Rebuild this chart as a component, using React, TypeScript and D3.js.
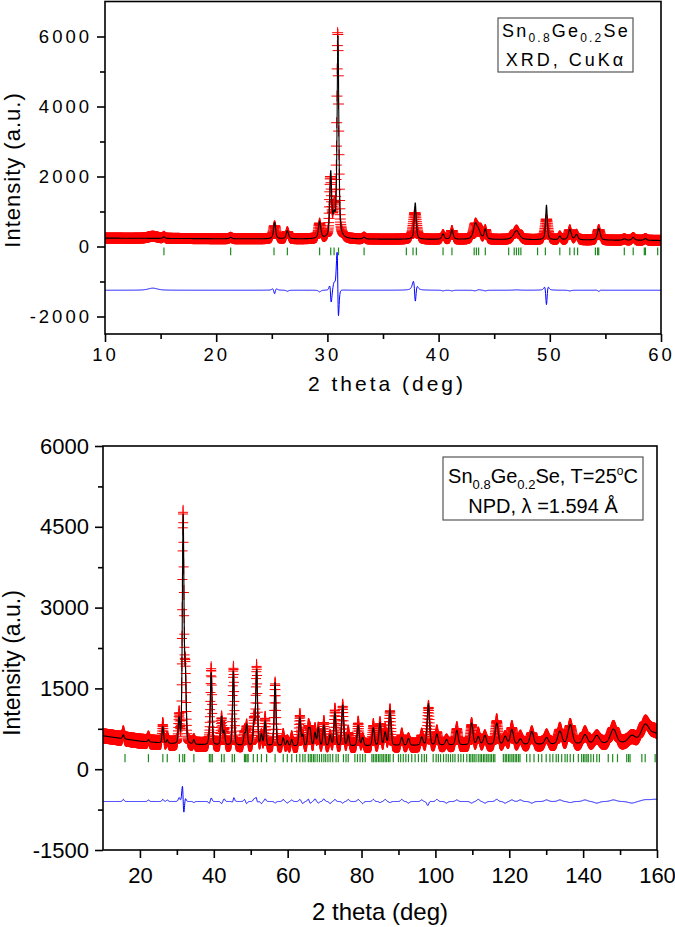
import React, { useEffect, useRef } from 'react';
import * as d3 from 'd3';

const FONT = "'Liberation Sans', Arial, Helvetica, sans-serif";

// ---- XRD (Cu Kα) panel ----
const xrdRange = [10, 60];
const xrdStep = 0.02;
const xrdBgAt = [10, 20, 30, 40, 50, 60];
const xrdBgVal = [240, 222, 212, 202, 188, 172];
const xrdPos = [14.3, 15.3, 21.3, 25.25, 26.4, 29.3, 30.3, 30.6, 30.95, 33.3, 37.9, 40.4, 41.2, 43.3, 43.6, 44.2, 47.0, 49.7, 50.9, 51.8, 52.4, 54.4, 56.7, 57.5, 58.6];
const xrdCalc = [0, 50, 40, 470, 230, 480, 1850, 500, 5800, 50, 1050, 150, 270, 420, 200, 280, 260, 1000, 100, 300, 150, 330, 40, 80, 50];
const xrdObs = [60, 50, 40, 370, 200, 430, 1650, 700, 5850, 50, 760, 130, 250, 400, 220, 260, 270, 590, 100, 280, 150, 300, 40, 80, 50];
const xrdCalcW = [1.0, 0.2, 0.25, 0.22, 0.25, 0.25, 0.2, 0.25, 0.18, 0.25, 0.2, 0.25, 0.25, 0.4, 0.4, 0.25, 0.6, 0.18, 0.25, 0.3, 0.3, 0.3, 0.3, 0.3, 0.3];
const xrdObsW = [1.0, 0.2, 0.25, 0.3, 0.25, 0.25, 0.2, 0.25, 0.19, 0.25, 0.35, 0.25, 0.25, 0.4, 0.4, 0.25, 0.6, 0.3, 0.25, 0.3, 0.3, 0.32, 0.3, 0.3, 0.3];
const xrdShift = [0, 0, 0, 0, 0, 0, -0.02, 0, -0.022, 0, -0.03, 0, 0, 0, 0, 0, 0, 0, 0, 0, 0, 0, 0, 0, 0];
const xrdRefl = [15.3, 21.3, 25.2, 26.4, 29.3, 30.3, 30.6, 31.0, 33.3, 37.1, 37.7, 38.0, 40.4, 41.2, 43.2, 43.4, 43.6, 44.2, 46.3, 46.8, 47.0, 47.2, 47.4, 48.9, 49.6, 50.9, 51.8, 52.2, 52.5, 54.1, 54.3, 54.4, 56.7, 57.5, 58.5, 58.6, 59.7];

// ---- NPD (λ = 1.594 Å) panel ----
const npdRange = [10, 160];
const npdStep = 0.05;
const npdBgAt = [10, 20, 30, 45, 60, 80, 100, 120, 140, 160];
const npdBgVal = [620, 520, 460, 440, 425, 430, 445, 455, 465, 500];
const npdPos = [15.5, 22.3, 26.2, 27.4, 30.6, 31.7, 32.3, 34.6, 38.8, 39.3, 42.1, 42.8, 45.3, 48.3, 48.9, 50.9, 51.6, 52.9, 53.9, 56.6, 58.8, 59.9, 61.1, 63.3, 64.1, 65.6, 66.1, 67.4, 68.3, 69.8, 71.5, 72.8, 74.9, 76.4, 79.1, 80.3, 83.2, 85.0, 86.4, 87.7, 90.9, 92.7, 96.3, 98.1, 100.4, 103.0, 105.8, 109.8, 111.6, 113.4, 116.6, 118.9, 120.7, 123.0, 126.1, 130.1, 133.7, 136.5, 140.5, 143.7, 148.2, 153.2, 156.8, 159.5];
const npdCalc = [70, 40, 300, 60, 450, 4200, 1250, 80, 150, 1330, 530, 250, 1380, 200, 380, 420, 1400, 200, 450, 1180, 150, 100, 120, 520, 200, 280, 280, 240, 330, 380, 200, 620, 760, 200, 380, 150, 330, 420, 240, 660, 150, 130, 150, 760, 200, 100, 270, 400, 150, 170, 400, 150, 280, 100, 240, 120, 240, 360, 170, 150, 260, 130, 320, 150];
const npdObs = [110, 70, 340, 90, 520, 4250, 1320, 60, 110, 1400, 490, 300, 1430, 240, 340, 470, 1450, 160, 500, 1150, 190, 70, 150, 560, 160, 330, 240, 290, 300, 430, 160, 660, 730, 240, 420, 110, 370, 400, 280, 640, 190, 100, 180, 700, 240, 70, 300, 370, 190, 140, 440, 120, 310, 130, 210, 150, 270, 340, 200, 120, 290, 100, 350, 190];
const npdShiftedAt = [31.7, 45.3, 51.6, 98.1];
const npdShiftBy = [-0.022, 0.01, -0.01, 0.02];
// Caglioti resolution of the diffractometer
const npdU = 0.28, npdV = -0.05, npdW = 0.26;
const npdRefl = [15.96, 22.3, 26.2, 27.4, 30.7, 31.6, 32.1, 34.6, 38.8, 39.2, 39.6, 42.1, 42.8, 45.0, 45.6, 48.3, 48.6, 49.0, 49.3, 50.7, 51.8, 52.9, 54.3, 56.6, 58.8, 59.9, 61.1, 62.4, 63.3, 64.1, 64.7, 65.6, 66.1, 66.5, 67.0, 67.4, 68.0, 68.6, 69.2, 69.8, 70.3, 70.9,
  71.5, 72.2, 73.1, 73.7, 75.1, 75.8, 76.4, 78.2, 78.9, 79.6, 80.3, 81.0, 82.8, 83.2, 83.7, 84.1, 84.6, 85.0, 85.5, 85.9, 86.4, 86.8, 87.3, 87.7, 88.6, 90.0, 90.6, 91.3, 92.0, 92.7, 93.6, 94.5, 95.4, 96.3, 97.0, 97.6, 99.4, 100.2, 100.8, 101.4, 102.2, 102.9, 103.5, 104.1, 104.7, 105.3,
  106.2, 106.9, 107.6, 108.5, 109.2, 109.6, 110.1, 110.5, 111.0, 111.6, 112.1, 112.5, 113.0, 113.4, 113.9, 114.3, 114.8, 115.2, 115.7, 116.1, 118.4, 118.9, 119.3, 119.8, 120.2, 120.7, 121.1, 121.6, 122.0, 122.5, 122.9, 124.7, 125.6, 126.7, 127.9, 128.8, 130.0, 131.0, 131.8, 132.7, 133.3,
  134.2, 135.1, 135.7, 136.5, 137.4, 138.7, 139.6, 140.1, 140.5, 141.0, 141.4, 142.1, 142.8, 143.7, 144.4, 146.8, 148.0, 149.3, 151.8, 152.3, 152.7, 155.9, 156.8, 159.5];

// pseudo-Voigt peak
function pv(t: number, pos: number, h: number, fwhm: number, eta: number) {
  const d = (t - pos) / (fwhm / 2);
  const d2 = d * d;
  return h * (eta / (1 + d2) + (1 - eta) * Math.exp(-Math.LN2 * d2));
}

function buildXrd() {
  const xs = d3.range(xrdRange[0], xrdRange[1] + xrdStep / 2, xrdStep);
  const bg = d3.scaleLinear().domain(xrdBgAt).range(xrdBgVal);
  const calc = xs.map((t) => bg(t) + d3.sum(xrdPos, (p, i) => pv(t, p, xrdCalc[i], xrdCalcW[i], 0.6)));
  const obs = xs.map((t) => bg(t) + d3.sum(xrdPos, (p, i) => pv(t, p + xrdShift[i], xrdObs[i], xrdObsW[i], 0.6)));
  const diff = obs.map((o, i) => o - calc[i] - 1250);
  return { xs, calc, obs, diff };
}

function buildNpd() {
  const xs = d3.range(npdRange[0], npdRange[1] + npdStep / 2, npdStep);
  const bg = d3.scaleLinear().domain(npdBgAt).range(npdBgVal);
  const widths = npdPos.map((p) => {
    const tn = Math.tan((p / 2) * Math.PI / 180);
    return Math.sqrt(npdU * tn * tn + npdV * tn + npdW);
  });
  const shift = npdPos.map((p) => {
    const k = npdShiftedAt.indexOf(p);
    return k >= 0 ? npdShiftBy[k] : 0;
  });
  const calc = xs.map((t) => bg(t) + d3.sum(npdPos, (p, i) => pv(t, p, npdCalc[i], widths[i], 0.25)));
  const obs = xs.map((t) => bg(t) + d3.sum(npdPos, (p, i) => pv(t, p + shift[i], npdObs[i], widths[i], 0.25)));
  const diff = obs.map((o, i) => o - calc[i] - 600);
  return { xs, calc, obs, diff };
}

function drawPanel(svg: any, p: any) {
  const x = d3.scaleLinear().domain(p.xDomain).range([p.left, p.right]);
  const y = d3.scaleLinear().domain(p.yDomain).range([p.bottom, p.top]);
  const clipId = p.id + '-clip';
  svg.append('clipPath').attr('id', clipId).append('rect')
    .attr('x', p.left).attr('y', p.top).attr('width', p.right - p.left).attr('height', p.bottom - p.top);
  const g = svg.append('g').attr('clip-path', `url(#${clipId})`);

  // observed points as red crosses
  const hw = p.markW / 2, hh = p.markH / 2;
  let d = '';
  p.data.xs.forEach((t: number, i: number) => {
    const px = x(t), py = y(p.data.obs[i]);
    d += `M${(px - hw).toFixed(1)},${py.toFixed(1)}h${p.markW}M${px.toFixed(1)},${(py - hh).toFixed(1)}v${p.markH}`;
  });
  g.append('path').attr('d', d).attr('fill', 'none').attr('stroke', '#ff0000').attr('stroke-width', 1);

  const line = d3.line<number>().x((_, i) => x(p.data.xs[i])).y((v) => y(v));
  g.append('path').datum(p.data.calc).attr('d', line)
    .attr('fill', 'none').attr('stroke', '#000').attr('stroke-width', 1.1);

  // Bragg reflections
  g.append('g').selectAll('line').data(p.refl).join('line')
    .attr('x1', (t: number) => x(t)).attr('x2', (t: number) => x(t))
    .attr('y1', y(p.reflTop)).attr('y2', y(p.reflBottom))
    .attr('stroke', '#1f8a1f').attr('stroke-width', 1.2);

  // difference curve
  g.append('path').datum(p.data.diff).attr('d', line)
    .attr('fill', 'none').attr('stroke', '#0000ff').attr('stroke-width', 1);

  svg.append('rect')
    .attr('x', p.left).attr('y', p.top).attr('width', p.right - p.left).attr('height', p.bottom - p.top)
    .attr('fill', 'none').attr('stroke', '#000').attr('stroke-width', 1.6);

  const fmt = (v: any) => String(v);
  const xAx = svg.append('g').attr('transform', `translate(0,${p.bottom})`)
    .call(d3.axisBottom(x).tickValues(p.xMajor).tickFormat(fmt).tickSize(8).tickSizeOuter(0).tickPadding(p.xPad));
  const xMin = svg.append('g').attr('transform', `translate(0,${p.bottom})`)
    .call(d3.axisBottom(x).tickValues(p.xMinor).tickFormat(() => '').tickSize(5).tickSizeOuter(0));
  const yAx = svg.append('g').attr('transform', `translate(${p.left},0)`)
    .call(d3.axisLeft(y).tickValues(p.yMajor).tickFormat(fmt).tickSize(8).tickSizeOuter(0).tickPadding(p.yPad));
  const yMin = svg.append('g').attr('transform', `translate(${p.left},0)`)
    .call(d3.axisLeft(y).tickValues(p.yMinor).tickFormat(() => '').tickSize(5).tickSizeOuter(0));
  [xAx, xMin, yAx, yMin].forEach((a) => {
    a.select('.domain').remove();
    a.selectAll('line').attr('stroke', '#000').attr('stroke-width', 1.6);
    a.selectAll('text').attr('fill', '#000').style('font-family', FONT)
      .style('font-size', p.fontSize + 'px').style('letter-spacing', p.spacing + 'px');
  });
}

export default function App() {
  const ref = useRef<SVGGElement>(null);

  useEffect(() => {
    const svg = d3.select(ref.current);
    svg.selectAll('*').remove();
    drawPanel(svg, {
      id: 'xrd', left: 105, right: 661, top: 1.5, bottom: 334,
      xDomain: xrdRange, yDomain: [-2500, 7000],
      xMajor: [10, 20, 30, 40, 50, 60], xMinor: [15, 25, 35, 45, 55],
      yMajor: [-2000, 0, 2000, 4000, 6000], yMinor: [-1000, 1000, 3000, 5000],
      xPad: 6, yPad: 5, fontSize: 18.5, spacing: 3,
      markW: 11, markH: 11, refl: xrdRefl, reflTop: -30, reflBottom: -250,
      data: buildXrd(),
    });
    drawPanel(svg, {
      id: 'npd', left: 103, right: 657, top: 446, bottom: 850,
      xDomain: npdRange, yDomain: [-1500, 6000],
      xMajor: [20, 40, 60, 80, 100, 120, 140, 160], xMinor: [30, 50, 70, 90, 110, 130, 150],
      yMajor: [-1500, 0, 1500, 3000, 4500, 6000], yMinor: [-750, 750, 2250, 3750, 5250],
      xPad: 9, yPad: 6, fontSize: 22, spacing: 0,
      markW: 10, markH: 15, refl: npdRefl, reflTop: 280, reflBottom: 130,
      data: buildNpd(),
    });
  }, []);

  return (
    <svg width={675} height={927} style={{ position: 'absolute', left: 0, top: 0, background: '#fff' }}
      fontFamily={FONT}>
      <g ref={ref} />
      {/* top panel titles */}
      <text x={387} y={391} textAnchor="middle" fontSize={21} letterSpacing={3}>2 theta (deg)</text>
      <text transform="translate(20,170) rotate(-90)" textAnchor="middle" fontSize={22} letterSpacing={1}>Intensity (a.u.)</text>
      <rect x={498} y={18} width={135} height={54} fill="#fff" stroke="#555" strokeWidth={1.2} />
      <text x={566} y={37} textAnchor="middle" fontSize={18} letterSpacing={2.2}>
        Sn<tspan fontSize={12} dy={5}>0.8</tspan><tspan dy={-5}>Ge</tspan><tspan fontSize={12} dy={5}>0.2</tspan><tspan dy={-5}>Se</tspan>
      </text>
      <text x={566} y={66} textAnchor="middle" fontSize={18} letterSpacing={3}>XRD, CuKα</text>

      {/* bottom panel titles */}
      <text x={380} y={920} textAnchor="middle" fontSize={24}>2 theta (deg)</text>
      <text transform="translate(20,663) rotate(-90)" textAnchor="middle" fontSize={23}>Intensity (a.u.)</text>
      <rect x={443} y={457} width={200} height={63} fill="#fff" stroke="#555" strokeWidth={1.2} />
      <text x={543} y={483} textAnchor="middle" fontSize={20}>
        Sn<tspan fontSize={13} dy={6}>0.8</tspan><tspan dy={-6}>Ge</tspan><tspan fontSize={13} dy={6}>0.2</tspan><tspan dy={-6}>Se, T=25</tspan><tspan fontSize={12} dy={-8}>o</tspan><tspan dy={8}>C</tspan>
      </text>
      <text x={543} y={513} textAnchor="middle" fontSize={20}>NPD, λ =1.594 Å</text>
    </svg>
  );
}
